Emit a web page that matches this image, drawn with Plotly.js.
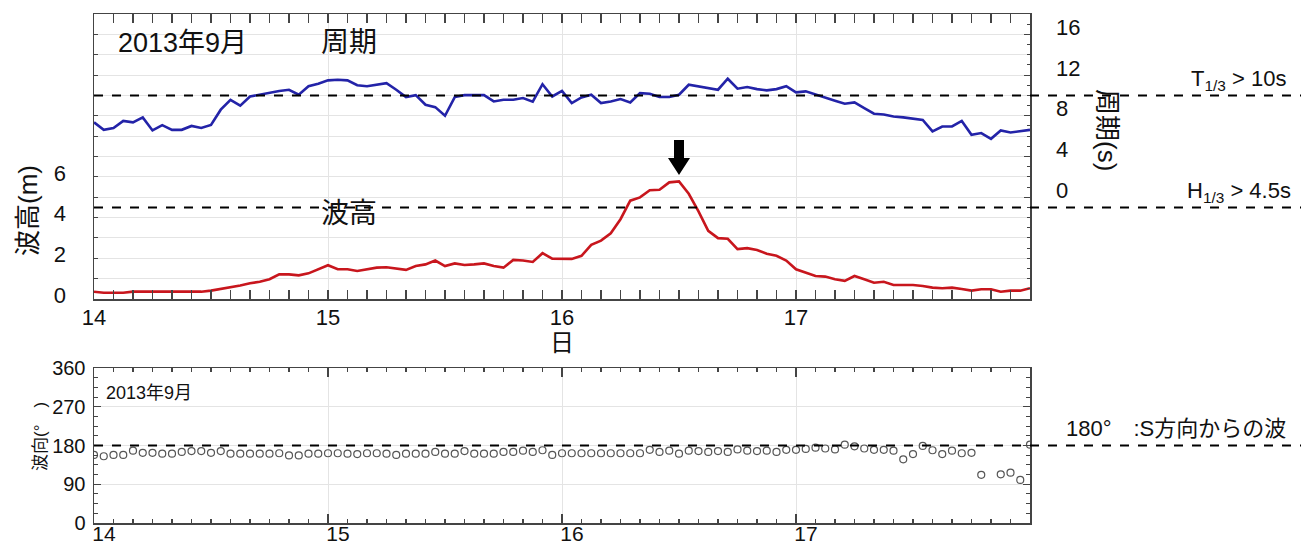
<!DOCTYPE html>
<html><head><meta charset="utf-8">
<script src="https://cdn.plot.ly/plotly-3.0.1.min.js"></script>
<style>html,body{margin:0;padding:0;background:#fff}#chart{width:1301px;height:542px}</style>
</head><body><div id="chart"></div>
<script>
// ---- data (hourly, 2013-09-14 00:00 .. 2013-09-18 00:00) ----
const startDay = 14;
const dayTicks = [14, 15, 16, 17];
const dayLabels = ['14', '15', '16', '17'];
// significant wave period T1/3 (s)
const period = [
  7.35, 6.62, 6.79, 7.5, 7.35, 7.84, 6.56, 7.08, 6.62, 6.62, 7.0, 6.8, 7.1, 8.6, 9.57, 9.0, 9.9, 10.1, 10.3, 10.43, 10.56, 10.07, 10.9, 11.15,
  11.48, 11.54, 11.48, 11.0, 10.9, 11.05, 11.2, 10.56, 9.84, 10.03, 9.08, 8.85, 8.0, 9.84, 10.03, 10.03, 10.03, 9.41, 9.57, 9.57, 9.74, 9.38, 11.1, 9.9,
  10.45, 9.25, 9.8, 10.07, 9.25, 9.41, 9.64, 9.31, 10.23, 10.16, 9.84, 9.84, 10.07, 11.05, 10.9, 10.7, 10.56, 11.64, 10.66, 10.82, 10.62, 10.5, 10.62, 10.9,
  10.3, 10.4, 10.07, 9.8, 9.48, 9.18, 9.31, 8.75, 8.2, 8.13, 7.93, 7.84, 7.74, 7.6, 6.46, 6.95, 6.95, 7.5, 6.13, 6.3, 5.74, 6.56, 6.36, 6.46, 6.62
];
// significant wave height H1/3 (m)
const waveHeight = [
  0.36, 0.31, 0.31, 0.31, 0.36, 0.36, 0.36, 0.39, 0.36, 0.36, 0.36, 0.36, 0.41, 0.49, 0.6, 0.66, 0.77, 0.85, 0.97, 1.21, 1.21, 1.16, 1.26, 1.46,
  1.66, 1.46, 1.46, 1.38, 1.46, 1.54, 1.56, 1.49, 1.43, 1.62, 1.7, 1.89, 1.62, 1.75, 1.67, 1.7, 1.75, 1.62, 1.54, 1.92, 1.89, 1.82, 2.25, 1.98,
  1.99, 1.97, 2.12, 2.66, 2.87, 3.23, 3.92, 4.83, 4.99, 5.34, 5.37, 5.73, 5.78, 5.17, 4.3, 3.35, 2.99, 2.96, 2.45, 2.5, 2.41, 2.22, 2.12, 1.89,
  1.46, 1.3, 1.13, 1.1, 0.97, 0.89, 1.13, 0.97, 0.8, 0.85, 0.69, 0.69, 0.69, 0.64, 0.56, 0.53, 0.56, 0.49, 0.41, 0.48, 0.48, 0.36, 0.41, 0.41, 0.53
];
// wave direction (deg)
const direction = [
  158, 155, 158, 158, 168, 163, 163, 161, 161, 165, 167, 167, 163, 167, 161, 161, 161, 161, 161, 162, 157, 157, 161, 161,
  162, 162, 161, 160, 162, 162, 161, 158, 161, 161, 161, 165, 161, 161, 167, 161, 161, 161, 165, 165, 168, 165, 169, 158,
  162, 162, 162, 162, 162, 162, 162, 162, 162, 170, 165, 168, 161, 168, 167, 165, 167, 165, 171, 168, 167, 168, 165, 170,
  170, 172, 175, 173, 171, 182, 178, 173, 170, 170, 168, 148, 160, 179, 169, 160, 168, 162, 163, 112, null, 113, 117, 100, 182
];
const periodLimit = 10;     // T1/3 > 10s
const heightLimit = 4.5;    // H1/3 > 4.5
const dirSouth = 180;       // S direction

const times = period.map((_, i) => startDay + i / 24);

// ---- geometry ----
const L = 94, R = 1030, T = 14, B = 523;
const px2x = px => (px - L) / (R - L);
const py2y = py => (B - py) / (B - T);
const topDom = [py2y(299), 1];
const botDom = [0, py2y(368)];
const hRange = [0, 14], pRange = [-10, 18], dRange = [0, 360];
const onAxis = (v, r, d) => d[0] + (v - r[0]) / (r[1] - r[0]) * (d[1] - d[0]);

const FN = "'Liberation Sans Narrow','Liberation Sans',sans-serif";
const FJ = "'Liberation Sans','Noto Sans CJK JP',sans-serif";
const AX = '#444';
const GRID = '#e4e4e4';

const traces = [
  {x: times, y: waveHeight, xaxis: 'x', yaxis: 'y', type: 'scatter', mode: 'lines',
   line: {color: '#c8161d', width: 2.6}, hoverinfo: 'x+y'},
  {x: times, y: period, xaxis: 'x', yaxis: 'y2', type: 'scatter', mode: 'lines',
   line: {color: '#2323a8', width: 2.6}, hoverinfo: 'x+y'},
  {x: times, y: direction, xaxis: 'x2', yaxis: 'y3', type: 'scatter', mode: 'markers',
   marker: {symbol: 'circle-open', size: 7, color: '#555', line: {width: 1.2, color: '#555'}}, hoverinfo: 'x+y'}
];

const hTicks = [], hText = [];
for (let v = hRange[0]; v <= hRange[1]; v++) { hTicks.push(v); hText.push(v <= 6 && v % 2 === 0 ? String(v) : ''); }

const xCommon = {
  range: [14, 18], tickvals: dayTicks, ticktext: dayLabels, ticks: 'inside', ticklen: 9, tickwidth: 1.2,
  tickcolor: AX, showline: true, linecolor: AX, linewidth: 1.5, mirror: 'allticks', showgrid: true,
  gridcolor: GRID, zeroline: false,
  minor: {dtick: 1 / 12, tick0: 14, ticks: 'inside', ticklen: 4, tickcolor: AX, showgrid: false}
};

// peak arrow
const peakIdx = waveHeight.indexOf(Math.max(...waveHeight));
const tp = (times[peakIdx] - 14) / 4;
const aw = 5 / (R - L), hw = 11 / (R - L);
const yTop = py2y(140), yMid = py2y(158), yTip = py2y(175);
const arrowPath = `M ${tp - aw},${yTop} L ${tp + aw},${yTop} L ${tp + aw},${yMid} L ${tp + hw},${yMid} L ${tp},${yTip} L ${tp - hw},${yMid} L ${tp - aw},${yMid} Z`;

const dashLine = (yp) => ({type: 'line', xref: 'paper', yref: 'paper', x0: 0, x1: px2x(1301), y0: yp, y1: yp,
  line: {color: '#000', width: 2, dash: 'dash'}, layer: 'above'});

const ann = (text, px, py, size, opts = {}) => Object.assign({
  text, xref: 'paper', yref: 'paper', x: px2x(px), y: py2y(py), showarrow: false,
  xanchor: 'center', yanchor: 'middle', font: {family: FJ, size, color: '#111'}
}, opts);

const layout = {
  width: 1301, height: 542,
  margin: {l: L, r: 1301 - R, t: T, b: 542 - B, pad: 0},
  paper_bgcolor: '#fff', plot_bgcolor: '#fff', showlegend: false,
  xaxis: Object.assign({}, xCommon, {domain: [0, 1], anchor: 'y',
    tickfont: {family: FN, size: 22, color: '#111'}, ticklabelstandoff: -2}),
  yaxis: {domain: topDom, anchor: 'x', range: hRange, tickvals: hTicks, ticktext: hText,
    ticks: 'inside', ticklen: 4, tickcolor: AX, showline: true, linecolor: AX, linewidth: 1.5,
    showgrid: true, gridcolor: GRID, zeroline: false,
    tickfont: {family: FN, size: 22, color: '#111'}, ticklabelstandoff: 22, ticklabelshift: -4},
  yaxis2: {overlaying: 'y', side: 'right', anchor: 'x', range: pRange, tickvals: [0, 4, 8, 12, 16],
    ticks: 'inside', ticklen: 6, tickcolor: AX, showline: true, linecolor: AX, linewidth: 1.5,
    showgrid: false, zeroline: false,
    minor: {dtick: 1, tick0: 0, ticks: 'inside', ticklen: 3, tickcolor: AX},
    tickfont: {family: FN, size: 22, color: '#111'}, ticklabelstandoff: 20, ticklabelshift: -7},
  xaxis2: Object.assign({}, xCommon, {domain: [0, 1], anchor: 'y3',
    tickfont: {family: FN, size: 21, color: '#111'}, ticklabelstandoff: -9, ticklabelshift: 10}),
  yaxis3: {domain: botDom, anchor: 'x2', range: dRange, tickvals: [0, 90, 180, 270, 360],
    ticks: 'inside', ticklen: 7, tickcolor: AX, showline: true, linecolor: AX, linewidth: 1.5,
    mirror: 'allticks', showgrid: true, gridcolor: GRID, zeroline: false,
    minor: {dtick: 22.5, tick0: 0, ticks: 'inside', ticklen: 4, tickcolor: AX},
    tickfont: {family: FN, size: 20, color: '#111'}, ticklabelstandoff: 3},
  shapes: [
    dashLine(onAxis(periodLimit, pRange, topDom)),
    dashLine(onAxis(heightLimit, hRange, topDom)),
    dashLine(onAxis(dirSouth, dRange, botDom)),
    {type: 'path', xref: 'paper', yref: 'paper', path: arrowPath, fillcolor: '#000', line: {width: 0}}
  ],
  annotations: [
    ann('2013年9月', 182, 43, 27),
    ann('周期', 349, 43, 28),
    ann('波高', 349, 213, 28),
    ann('波高(m)', 28, 211, 26, {textangle: -90}),
    ann('周期(s)', 1107, 130, 26, {textangle: 90}),
    ann('日', 562, 342, 24),
    ann('T<sub>1/3</sub> > 10s', 1288, 80, 22, {xanchor: 'right'}),
    ann('H<sub>1/3</sub> > 4.5s', 1293, 192, 22, {xanchor: 'right'}),
    ann('2013年9月', 104, 393, 18, {xanchor: 'left'}),
    ann('波向(°　)', 40, 437, 17, {textangle: -90}),
    ann('180°　:S方向からの波', 1288, 428, 22, {xanchor: 'right'})
  ]
};

Plotly.newPlot('chart', traces, layout, {displayModeBar: false, staticPlot: true});
</script>
</body></html>
